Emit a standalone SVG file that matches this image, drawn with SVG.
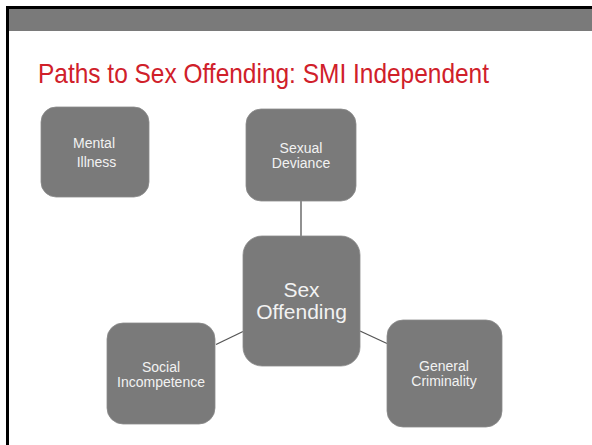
<svg xmlns="http://www.w3.org/2000/svg" width="592" height="445" viewBox="0 0 592 445">
<style>
.box{fill:#7a7a7a;stroke:#8a8a8a;stroke-width:0.8}
.t{font-family:"Liberation Sans",Arial,sans-serif;fill:#f2f2f2;text-anchor:middle;font-size:14px}
.big{font-size:21px}
.conn line{stroke:#555;stroke-width:1.3}
</style>
<rect x="0" y="0" width="592" height="445" fill="#fff"/>
<rect x="6" y="6" width="586" height="3" fill="#000"/>
<rect x="6" y="6" width="3" height="439" fill="#000"/>
<rect x="9" y="9" width="583" height="22" fill="#7a7a7a"/>
<text x="38" y="83" font-family="'Liberation Sans',Arial,sans-serif" font-size="28" fill="#d0202a" textLength="451" lengthAdjust="spacingAndGlyphs">Paths to Sex Offending: SMI Independent</text>
<g class="conn">
<line x1="301" y1="201" x2="301" y2="236"/>
<line x1="360" y1="331" x2="387" y2="343.5"/>
<line x1="243" y1="331.5" x2="216" y2="344.5"/>
</g>
<g id="mental-illness">
<rect class="box" x="41" y="107" width="108" height="90" rx="15"/>
<text class="t" x="94" y="147.5">Mental</text>
<text class="t" x="96.5" y="166.5">Illness</text>
</g>
<g id="sexual-deviance">
<rect class="box" x="246" y="109" width="110" height="92" rx="15"/>
<text class="t" x="301" y="152.5">Sexual</text>
<text class="t" x="301" y="168">Deviance</text>
</g>
<g id="sex-offending">
<rect class="box" x="243" y="236" width="117" height="130" rx="19"/>
<text class="t big" x="301.5" y="297">Sex</text>
<text class="t big" x="301.5" y="319">Offending</text>
</g>
<g id="social-incompetence">
<rect class="box" x="107" y="323" width="108" height="101" rx="16"/>
<text class="t" x="161" y="372">Social</text>
<text class="t" x="161" y="386.5">Incompetence</text>
</g>
<g id="general-criminality">
<rect class="box" x="387" y="320" width="115" height="107" rx="16"/>
<text class="t" x="444" y="370.5">General</text>
<text class="t" x="444" y="386">Criminality</text>
</g>
</svg>
